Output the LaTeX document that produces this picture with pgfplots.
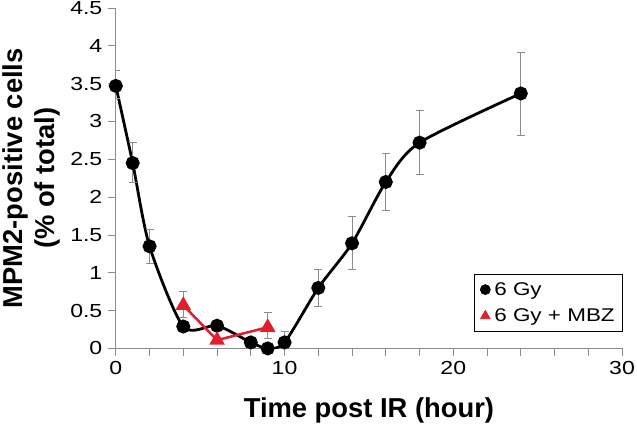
\documentclass[border=0pt]{standalone}
\usepackage{pgfplots}
\pgfplotsset{compat=1.18}
\usepackage{fontspec}
\setmainfont{Liberation Sans}
\newfontfamily\tickfont{Liberation Sans}[FakeStretch=1.22]
\definecolor{myred}{RGB}{226,30,46}
\begin{document}
\begin{tikzpicture}
\begin{axis}[
  scale only axis, width=507bp, height=341bp,
  xmin=0, xmax=30, ymin=0, ymax=4.5,
  axis x line*=bottom, axis y line*=left,
  axis line style={black!45, line width=0.8bp},
  every tick/.style={black!45, line width=0.8bp},
  tick align=outside, major tick length=8bp, minor tick length=8bp,
  xtick={0,10,20,30}, minor xtick={2,4,6,8,12,14,16,18,22,24,26,28},
  ytick={0,0.5,...,4.5},
  /pgf/number format/assume math mode=true,
  tick label style={font=\tickfont\fontsize{19}{23}\selectfont},
  xticklabel style={yshift=-1bp},
  yticklabel style={xshift=-2bp},
  xlabel={Time post IR (hour)},
  ylabel={MPM2-positive cells\\(\% of total)},
  every axis x label/.style={at={(axis description cs:0.5,-0.202)}, anchor=base,
    font=\bfseries\fontsize{27.5}{32}\selectfont},
  every axis y label/.style={at={(axis description cs:-0.167,0.5)}, anchor=center, rotate=90,
    font=\bfseries\fontsize{27.5}{32}\selectfont, align=center},
  legend style={at={(1.002,0.05)}, anchor=south east, draw=black, line width=0.7bp,
    font=\tickfont\fontsize{18.5}{22}\selectfont, row sep=8bp, column sep=2bp,
    inner xsep=6bp, inner ysep=6bp},
  legend image code/.code={\draw[#1] plot coordinates {(0.4cm,0cm)};},
  legend cell align=left,
  clip=true,
]
\addplot[forget plot, black, line width=2.8bp, smooth, tension=0.45,
  mark=*, mark size=5.6bp, mark options={solid},
  error bars/.cd, y dir=both, y explicit,
  error bar style={black!45, line width=0.8bp},
  error mark options={black!45, rotate=90, mark size=4bp, line width=0.8bp}]
  table[x=x, y=y, y error plus=ep, y error minus=em] {
  x   y     ep    em
  0   3.47  0.20  0.17
  1   2.45  0.27  0.26
  2   1.35  0.23  0.22
  4   0.29  0.03  0.03
  6   0.30  0.03  0.03
  8   0.08  0.02  0.02
  9   0.00  0.02  0.02
  10  0.08  0.15  0.15
  12  0.80  0.24  0.24
  14  1.39  0.35  0.35
  16  2.20  0.38  0.38
  18  2.72  0.42  0.42
  24  3.37  0.54  0.55
};
\addplot[forget plot, myred, line width=2.5bp,
  mark=triangle*, mark size=6.5bp, mark options={solid},
  error bars/.cd, y dir=both, y explicit,
  error bar style={black!45, line width=0.8bp},
  error mark options={black!45, rotate=90, mark size=4bp, line width=0.8bp}]
  table[x=x, y=y, y error plus=ep, y error minus=em] {
  x   y     ep    em
  4   0.57  0.19  0.16
  6   0.11  0.03  0.03
  9   0.28  0.20  0.15
};
\addlegendimage{only marks, mark=*, black, mark size=5bp}
\addlegendentry{6 Gy}
\addlegendimage{only marks, mark=triangle*, myred, mark size=5.5bp}
\addlegendentry{6 Gy + MBZ}
\end{axis}
\pgfresetboundingbox
\path[use as bounding box] ([xshift=-116bp,yshift=-75bp]current axis.south west) rectangle ([xshift=15bp,yshift=8bp]current axis.north east);
\end{tikzpicture}
\end{document}
